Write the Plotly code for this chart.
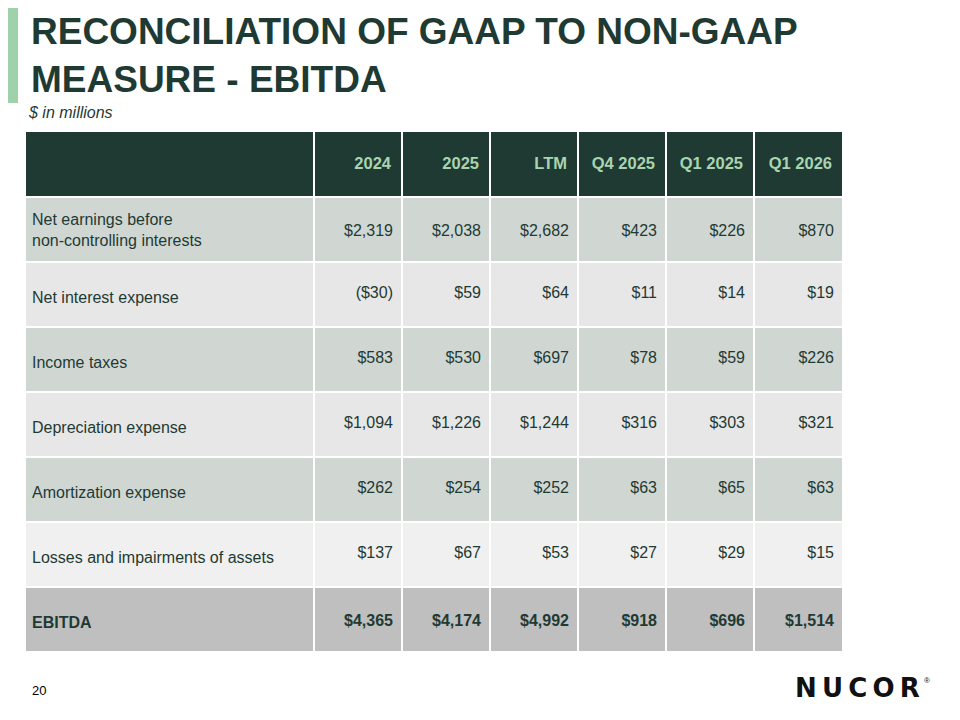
import plotly.graph_objects as go

columns = ["2024", "2025", "LTM", "Q4 2025", "Q1 2025", "Q1 2026"]
row_labels = [
    "Net earnings before<br>non-controlling interests",
    "Net interest expense",
    "Income taxes",
    "Depreciation expense",
    "Amortization expense",
    "Losses and impairments of assets",
    "<b>EBITDA</b>",
]
values = [
    ["$2,319", "$2,038", "$2,682", "$423", "$226", "$870"],
    ["($30)", "$59", "$64", "$11", "$14", "$19"],
    ["$583", "$530", "$697", "$78", "$59", "$226"],
    ["$1,094", "$1,226", "$1,244", "$316", "$303", "$321"],
    ["$262", "$254", "$252", "$63", "$65", "$63"],
    ["$137", "$67", "$53", "$27", "$29", "$15"],
    ["$4,365", "$4,174", "$4,992", "$918", "$696", "$1,514"],
]

DARK = "#1f3a33"
FONT = "Liberation Sans, Arial"
col_edges = [25, 314, 402, 490, 578, 666, 754, 843]
header_top, header_bot = 132, 196
row_h = 65
row_fills = ["#d0d7d3", "#e7e7e7", "#d0d7d3", "#e7e7e7", "#d0d7d3", "#f0f0f0", "#bfbfbf"]

fig = go.Figure()
shapes = []
for i in range(len(col_edges) - 1):
    shapes.append(dict(type="rect", x0=col_edges[i] + 1, x1=col_edges[i + 1] - 1,
                       y0=header_top, y1=header_bot, fillcolor=DARK, line_width=0, layer="below"))
for r in range(len(row_labels)):
    y0 = header_bot + 1 + r * row_h
    for i in range(len(col_edges) - 1):
        shapes.append(dict(type="rect", x0=col_edges[i] + 1, x1=col_edges[i + 1] - 1,
                           y0=y0 + 1, y1=y0 + row_h - 1, fillcolor=row_fills[r],
                           line_width=0, layer="below"))
shapes.append(dict(type="rect", x0=8, x1=18, y0=8, y1=103, fillcolor="#9fd1aa", line_width=0))

fig.add_trace(go.Scatter(
    x=[c - 11 for c in col_edges[2:]], y=[header_top + 33] * len(columns),
    text=["<b>%s</b>" % c for c in columns], mode="text", textposition="middle left",
    textfont=dict(family=FONT, size=16.5, color="#a8d5b0"), hoverinfo="skip"))

for r, lab in enumerate(row_labels):
    yc = header_bot + 1 + r * row_h + row_h / 2
    fig.add_trace(go.Scatter(
        x=[32], y=[yc + (2 if r == 0 else 4)], text=[lab], mode="text",
        textposition="middle right",
        textfont=dict(family=FONT, size=16, color=DARK), hoverinfo="skip"))
    vals = ["<b>%s</b>" % v if r == len(row_labels) - 1 else v for v in values[r]]
    fig.add_trace(go.Scatter(
        x=[c - 9 for c in col_edges[2:]], y=[yc + (2 if r in (0, 6) else -1)] * len(vals),
        text=vals, mode="text", textposition="middle left",
        textfont=dict(family=FONT, size=16, color=DARK), hoverinfo="skip"))

annotations = [
    dict(x=29, y=55, xref="x", yref="y", xanchor="left", yanchor="middle", showarrow=False, align="left",
         text="<b>RECONCILIATION OF GAAP TO NON-GAAP<br>MEASURE - EBITDA</b>",
         font=dict(family=FONT, size=37, color=DARK)),
    dict(x=26, y=112, xref="x", yref="y", xanchor="left", yanchor="middle", showarrow=False,
         text="<i>$ in millions</i>", font=dict(family=FONT, size=16, color=DARK)),
    dict(x=30, y=690, xref="x", yref="y", xanchor="left", yanchor="middle", showarrow=False,
         text="20", font=dict(family=FONT, size=13, color="#000000")),
    dict(x=922, y=688, xref="x", yref="y", xanchor="right", yanchor="middle", showarrow=False,
         text="<b>N\u2009U\u2009C\u2009O\u2009R</b>", font=dict(family="DejaVu Sans, Arial", size=26, color="#111111")),
    dict(x=932, y=680, xref="x", yref="y", xanchor="right", yanchor="middle", showarrow=False,
         text="®", font=dict(family=FONT, size=8, color="#111111")),
]

# page body has an 8px offset, so shift the ranges to keep pixel coordinates
fig.update_layout(
    width=960, height=720, margin=dict(l=0, r=0, t=0, b=0),
    paper_bgcolor="white", plot_bgcolor="white", showlegend=False,
    xaxis=dict(range=[8, 968], visible=False, fixedrange=True),
    yaxis=dict(range=[728, 8], visible=False, fixedrange=True),
    shapes=shapes, annotations=annotations,
)
fig.write_html("out.html")
